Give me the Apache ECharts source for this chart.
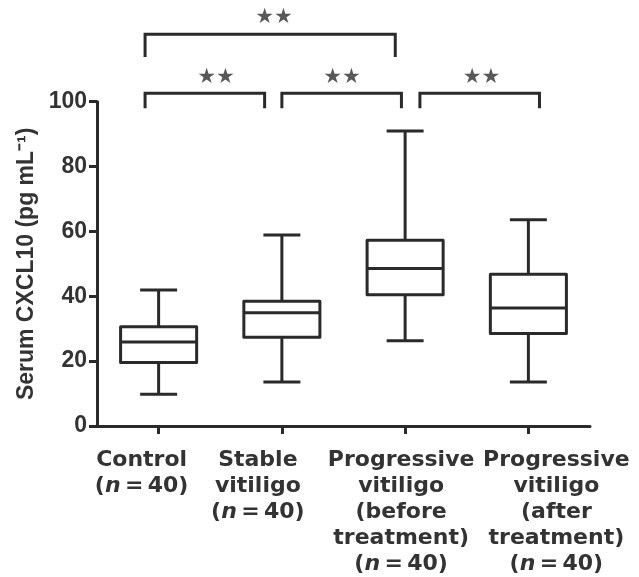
<!DOCTYPE html>
<html>
<head>
<meta charset="utf-8">
<script src="https://cdn.jsdelivr.net/npm/echarts@6/dist/echarts.min.js"></script>
<style>html,body{margin:0;padding:0;background:#fff}#c{width:639px;height:577px}</style>
</head>
<body>
<div id="c"></div>
<script>
// ---- data ----
const categories = ['Control', 'Stable\nvitiligo', 'Progressive\nvitiligo\n(before\ntreatment)', 'Progressive\nvitiligo\n(after\ntreatment)'];
const groupN = [40, 40, 40, 40];
const whiskerLow = [9.8, 13.6, 26.3, 13.6];
const q1 = [19.6, 27.4, 40.5, 28.5];
const median = [25.9, 34.9, 48.6, 36.4];
const q3 = [30.6, 38.5, 57.3, 46.8];
const whiskerHigh = [41.9, 58.9, 91.0, 63.6];
const yTicks = [0, 20, 40, 60, 80, 100];
// significance comparisons: [groupA, groupB], label
const comparisons = [[0, 1], [1, 2], [2, 3], [0, 2]];
const sigLabels = ['\u2605\u2605', '\u2605\u2605', '\u2605\u2605', '\u2605\u2605'];

// ---- layout (annotation placement, not data) ----
const bracketLeft = [-0.11, 1.0, 2.12, -0.11];
const bracketRight = [0.86, 1.97, 3.09, 1.92];
const bracketTop = [102.6, 102.6, 102.6, 120.8];
const bracketLeg = [98.0, 98.0, 98.0, 113.8];
const starX = [0.466, 1.488, 2.62, 0.936];
const starY = [107.4, 107.4, 107.4, 125.9];
const labelShift = [-17, -24, -4, 28];

const INK = '#2a2a2a';
const TXT = '#333';
const LW = 3;

const boxData = categories.map((c, i) => [i, whiskerLow[i], q1[i], median[i], q3[i], whiskerHigh[i]]);

const bracketSeries = comparisons.map((pair, k) => ({
  type: 'line',
  xAxisIndex: 1,
  yAxisIndex: 0,
  clip: false,
  symbol: 'none',
  silent: true,
  lineStyle: { color: INK, width: LW, cap: 'butt', join: 'miter' },
  data: [
    [bracketLeft[k], bracketLeg[k]],
    [bracketLeft[k], bracketTop[k]],
    [bracketRight[k], bracketTop[k]],
    [bracketRight[k], bracketLeg[k]]
  ]
}));

const starSeries = {
  type: 'scatter',
  xAxisIndex: 1,
  yAxisIndex: 0,
  clip: false,
  symbolSize: 0,
  silent: true,
  label: {
    show: true,
    position: 'inside',
    formatter: p => sigLabels[p.dataIndex],
    fontFamily: 'DejaVu Sans',
    fontSize: 21,
    color: '#2e2e2e'
  },
  data: comparisons.map((pair, k) => [starX[k], starY[k]])
};

// rich styles for category labels (per-category horizontal shift)
const base = { fontFamily: 'DejaVu Sans', fontWeight: 'bold', fontSize: 22, lineHeight: 26, color: TXT };
const rich = {};
labelShift.forEach((d, i) => {
  const padL = d > 0 ? 2 * d : 0;
  const padR = d < 0 ? -2 * d : 0;
  rich['a' + i] = Object.assign({}, base, { padding: [0, padR, 0, padL] });
  rich['f' + i] = Object.assign({}, base, { padding: [0, 0, 0, padL] });
  rich['l' + i] = Object.assign({}, base, { padding: [0, padR, 0, 0] });
  rich['i' + i] = Object.assign({}, base, { fontStyle: 'italic' });
});

const chart = echarts.init(document.getElementById('c'), null, { renderer: 'canvas' });
chart.setOption({
  animation: false,
  backgroundColor: '#fff',
  grid: { left: 97, right: 49, top: 101.7, bottom: 150.3 },
  xAxis: [{
    type: 'category',
    data: categories,
    axisLine: { lineStyle: { color: INK, width: LW } },
    axisTick: { show: true, alignWithLabel: true, length: 8, lineStyle: { color: INK, width: LW } },
    axisLabel: Object.assign({}, base, {
      interval: 0,
      margin: 21,
      align: 'center',
      formatter: (v, i) => {
        const lines = v.split('\n').map(l => '{a' + i + '|' + l + '}');
        lines.push('{f' + i + '|(}{i' + i + '|n}{l' + i + '|\u2009=\u2009' + groupN[i] + ')}');
        return lines.join('\n');
      },
      rich: rich
    })
  }, {
    type: 'value',
    min: -0.5,
    max: 3.5,
    show: false
  }],
  yAxis: {
    type: 'value',
    min: 0,
    max: 100,
    interval: 20,
    axisLine: { show: true, onZero: false, lineStyle: { color: INK, width: LW } },
    axisTick: { show: true, length: 8, lineStyle: { color: INK, width: LW } },
    splitLine: { show: false },
    axisLabel: {
      margin: 10,
      fontFamily: 'Liberation Sans',
      fontWeight: 'bold',
      fontSize: 23,
      color: TXT,
      formatter: v => (yTicks.indexOf(v) >= 0 ? String(v) : '')
    },
    name: 'Serum CXCL10 (pg mL\u207B\u00B9)',
    nameLocation: 'middle',
    nameRotate: 90,
    nameGap: 58,
    nameTextStyle: { fontFamily: 'Liberation Sans', fontWeight: 'bold', fontSize: 23, color: TXT }
  },
  series: [{
    type: 'custom',
    xAxisIndex: 0,
    yAxisIndex: 0,
    silent: true,
    data: boxData,
    encode: { x: 0, y: [1, 2, 3, 4, 5] },
    renderItem: (params, api) => {
      const i = api.value(0);
      const band = api.size([1, 0])[0];
      const bw = band * 0.617;
      const cw = band * 0.3;
      const pLo = api.coord([i, api.value(1)]);
      const pQ1 = api.coord([i, api.value(2)]);
      const pMed = api.coord([i, api.value(3)]);
      const pQ3 = api.coord([i, api.value(4)]);
      const pHi = api.coord([i, api.value(5)]);
      const x = pMed[0];
      const st = { stroke: INK, lineWidth: LW, fill: null, lineCap: 'butt' };
      return {
        type: 'group',
        children: [
          { type: 'rect', shape: { x: x - bw / 2, y: pQ3[1], width: bw, height: pQ1[1] - pQ3[1] }, style: { stroke: INK, lineWidth: LW, fill: 'rgba(0,0,0,0)', lineJoin: 'round' } },
          { type: 'line', shape: { x1: x - bw / 2, y1: pMed[1], x2: x + bw / 2, y2: pMed[1] }, style: st },
          { type: 'line', shape: { x1: x, y1: pQ3[1], x2: x, y2: pHi[1] }, style: st },
          { type: 'line', shape: { x1: x, y1: pQ1[1], x2: x, y2: pLo[1] }, style: st },
          { type: 'line', shape: { x1: x - cw / 2, y1: pHi[1], x2: x + cw / 2, y2: pHi[1] }, style: st },
          { type: 'line', shape: { x1: x - cw / 2, y1: pLo[1], x2: x + cw / 2, y2: pLo[1] }, style: st }
        ]
      };
    }
  }].concat(bracketSeries, [starSeries])
});
</script>
</body>
</html>
